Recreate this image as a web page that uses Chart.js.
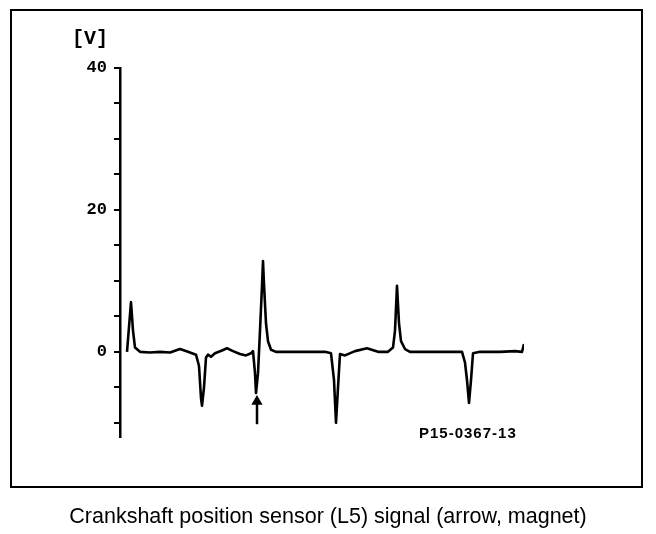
<!DOCTYPE html>
<html>
<head>
<meta charset="utf-8">
<script src="https://cdn.jsdelivr.net/npm/chart.js@4.4.1/dist/chart.umd.min.js"></script>
<style>
  body { margin: 0; background: #fff; }
  #wrap { position: relative; width: 656px; height: 534px; overflow: hidden; }
  #grafica { position: absolute; left: 0; top: 0; }
  #marco { position: absolute; left: 10px; top: 9px; width: 629px; height: 475px; border: 2.5px solid #000; }
  #unidad { position: absolute; left: 72px; top: 27px; font: bold 20px "Liberation Mono", monospace; color: #000; }
  #codigo { position: absolute; left: 419px; top: 424px; font: bold 15px "Liberation Sans", Arial, sans-serif; letter-spacing: 1px; color: #000; }
  #pie { position: absolute; left: 0; width: 656px; top: 504px; text-align: center; font: 21.5px "Liberation Sans", Arial, sans-serif; color: #000; }
</style>
</head>
<body>
<div id="wrap">
  <div id="marco"></div>
  <canvas id="grafica" width="656" height="534"></canvas>
  <div id="unidad">[V]</div>
  <div id="codigo">P15-0367-13</div>
  <div id="pie">Crankshaft position sensor (L5) signal (arrow, magnet)</div>
</div>
<script>
// Señal del sensor (tiempo en unidades arbitrarias, tensión en V)
var tiempo = [7, 9, 11, 13, 15, 20, 30, 40, 50, 60, 68, 76, 79, 81, 82, 84, 86, 88, 91, 95,
  102, 107, 113, 120, 126, 131, 133, 135, 136, 138, 140, 142, 143, 144, 146, 148, 151, 156,
  170, 190, 205, 211, 214, 216, 218, 220, 225, 235, 247, 258, 268, 273, 275, 277, 279, 281,
  285, 290, 310, 330, 342, 345, 347, 349, 351, 353, 360, 380, 395, 402, 404];
var tension = [0, 3.5, 7.0, 3, 0.6, 0, -0.1, 0, -0.1, 0.4, 0, -0.4, -2, -6.5, -7.6, -5, -0.8, -0.4, -0.7, -0.2,
  0.2, 0.5, 0.1, -0.3, -0.5, -0.2, 0.1, -3, -5.8, -3, 3, 9.3, 12.8, 9.5, 4, 1.5, 0.3, 0,
  0, 0, 0, -0.2, -4, -10, -5, -0.3, -0.5, 0.1, 0.5, 0, 0, 0.6, 3, 9.3, 4, 1.5,
  0.4, 0, 0, 0, 0, -1.5, -4, -7.2, -4, -0.2, 0, 0, 0.1, 0, 1.1];

// Flecha (imán)
var flechaX = [137, 137];
var flechaY = [-10.2, -7.0];

// Eje vertical
var ejeMin = -12, ejeMax = 40, paso = 5;
var etiquetasY = [0, 20, 40];

var puntos = tiempo.map(function (t, i) { return { x: t, y: tension[i] }; });
var flecha = flechaX.map(function (t, i) { return { x: t, y: flechaY[i] }; });

new Chart(document.getElementById("grafica").getContext("2d"), {
    type: 'line',
    data: {
        datasets: [{
            data: puntos,
            borderColor: '#000',
            borderWidth: 2.6,
            pointRadius: 0,
            tension: 0,
            borderJoinStyle: 'round',
            fill: false
        }, {
            data: flecha,
            borderColor: '#000',
            backgroundColor: '#000',
            borderWidth: 2.5,
            pointRadius: [0, 4],
            pointStyle: 'triangle',
            fill: false
        }]
    },
    options: {
        responsive: false,
        animation: false,
        events: [],
        layout: { padding: { left: 0, right: 132, top: 68, bottom: 97 } },
        plugins: { legend: { display: false }, tooltip: { enabled: false } },
        scales: {
            x: {
                type: 'linear',
                display: false,
                min: 0,
                max: 404
            },
            y: {
                min: ejeMin,
                max: ejeMax,
                afterFit: function (scale) { scale.width = 120; },
                border: { display: true, color: '#000', width: 2.5 },
                grid: { drawOnChartArea: false, drawTicks: true, tickLength: 6, color: '#000', lineWidth: 2 },
                ticks: {
                    stepSize: paso,
                    includeBounds: false,
                    autoSkip: false,
                    padding: 7,
                    color: '#000',
                    font: { family: 'Liberation Mono', size: 17, weight: 'bold' },
                    callback: function (v) { return etiquetasY.indexOf(v) >= 0 ? String(v) : ''; }
                }
            }
        }
    }
});
</script>
</body>
</html>
